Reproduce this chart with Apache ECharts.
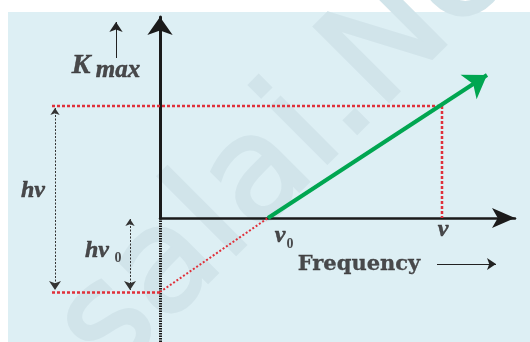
<!DOCTYPE html>
<html>
<head>
<meta charset="utf-8">
<title>Kmax vs Frequency</title>
<script src="https://cdn.jsdelivr.net/npm/echarts@6/dist/echarts.min.js"></script>
<style>
  html, body { margin: 0; padding: 0; background: #ffffff; }
  #main { width: 530px; height: 342px; }
</style>
</head>
<body>
<div id="main"></div>
<script>
// values (frequency units along x, energy units along y)
const nu0 = 10.8;          // threshold frequency
const nu = 28.2;           // chosen frequency
const hNu = 11.2;          // Kmax at nu
const hNu0 = -7.4;         // intercept (-work function)
const greenLine = [[10.8, 0], [32.7, 14.3]];
const upperGuide = [[-10.8, 11.2], [28.2, 11.2], [28.2, 0]];
const lowerGuide = [[-10.8, -7.4], [0, -7.4]];
const extension = [[0, -7.4], [10.8, 0]];
const yBelow = [[0, 0], [0, -12.4]];
const hNuArrow = [[-10.5, 11.0], [-10.5, -7.2]];
const hNu0Arrow = [[-3.0, -0.1], [-3.0, -7.2]];
const kmaxArrow = [[-4.4, 16.0], [-4.4, 19.6]];
const freqArrow = [[27.7, -4.6], [33.6, -4.6]];

const chart = echarts.init(document.getElementById('main'));

const serif = 'Liberation Serif';
const ink = '#231f20';

function lbl(pos, text, size, extra) {
  return {
    value: pos,
    label: Object.assign({
      show: true, position: 'inside', formatter: text,
      fontFamily: serif, fontSize: size, fontWeight: 'bold',
      fontStyle: 'italic', color: ink,
      textBorderColor: ink, textBorderWidth: 0.5
    }, extra || {})
  };
}

function arrowLines(coords, color, width, type, symbols, size) {
  return {
    type: 'lines', coordinateSystem: 'cartesian2d', clip: false, silent: true,
    polyline: coords.length > 2,
    symbol: symbols, symbolSize: size,
    lineStyle: { color: color, width: width, type: type, opacity: 1 },
    data: [{ coords: coords }]
  };
}

chart.setOption({
  animation: false,
  backgroundColor: '#ffffff',
  graphic: [
    { type: 'rect', left: 8, top: 12, z: -10,
      shape: { width: 522, height: 330 }, style: { fill: '#ddeff4' } },
    { type: 'text', x: 184, y: 253, z: -5, rotation: 45 * Math.PI / 180,
      style: { text: 'Padasalai.Net', font: '145px "DejaVu Sans"',
        fill: '#d1e4ea', stroke: '#d1e4ea', lineWidth: 3,
        textAlign: 'center', textVerticalAlign: 'middle' } }
  ],
  grid: { left: 160, right: 15, top: 17, bottom: 124 },
  xAxis: {
    type: 'value', min: 0, max: 35.5,
    axisLine: { show: true, onZero: false, symbol: ['none', 'arrow'], symbolSize: [15, 23],
      lineStyle: { color: '#1a1a1a', width: 2.5 } },
    axisTick: { show: false }, axisLabel: { show: false }, splitLine: { show: false }
  },
  yAxis: {
    type: 'value', min: 0, max: 20.1,
    axisLine: { show: true, onZero: false, symbol: ['none', 'arrow'], symbolSize: [19, 18],
      lineStyle: { color: '#1a1a1a', width: 3 } },
    axisTick: { show: false }, axisLabel: { show: false }, splitLine: { show: false }
  },
  series: [
    arrowLines(yBelow, '#1a1a1a', 3, [1.5, 1], 'none', 0),
    arrowLines(upperGuide, '#e0303a', 2.5, [3, 2], 'none', 0),
    arrowLines(lowerGuide, '#e0303a', 2.5, [3, 2], 'none', 0),
    arrowLines(extension, '#e0303a', 2, [2, 2], 'none', 0),
    arrowLines(greenLine, '#00a651', 4, 'solid', ['none', 'arrow'], [16, 22]),
    arrowLines(hNuArrow, '#333333', 1, [2, 1.5], ['arrow', 'arrow'], [7, 9]),
    arrowLines(hNu0Arrow, '#333333', 1, [2, 1.5], ['arrow', 'arrow'], [7, 9]),
    arrowLines(kmaxArrow, '#222222', 1, 'solid', ['none', 'arrow'], [7, 10]),
    arrowLines(freqArrow, '#222222', 1, 'solid', ['none', 'arrow'], [7, 9]),
    {
      type: 'scatter', clip: false, silent: true, symbolSize: 0,
      data: [
        lbl([-7.9, 15.2], 'K', 28),
        lbl([-4.2, 14.7], 'max', 25),
        lbl([-12.7, 2.7], 'hν', 24),
        lbl([-6.3, -3.3], 'hν', 24),
        lbl([-4.2, -4.0], '0', 14, { fontStyle: 'normal', textBorderWidth: 0 }),
        lbl([12.0, -1.8], 'ν', 24),
        lbl([13.0, -2.6], '0', 14, { fontStyle: 'normal', textBorderWidth: 0 }),
        lbl([28.3, -1.2], 'ν', 24),
        lbl([19.9, -4.7], 'Frequency', 21, { fontStyle: 'normal', fontFamily: 'DejaVu Serif', textBorderWidth: 0.3 })
      ]
    }
  ]
});
</script>
</body>
</html>
